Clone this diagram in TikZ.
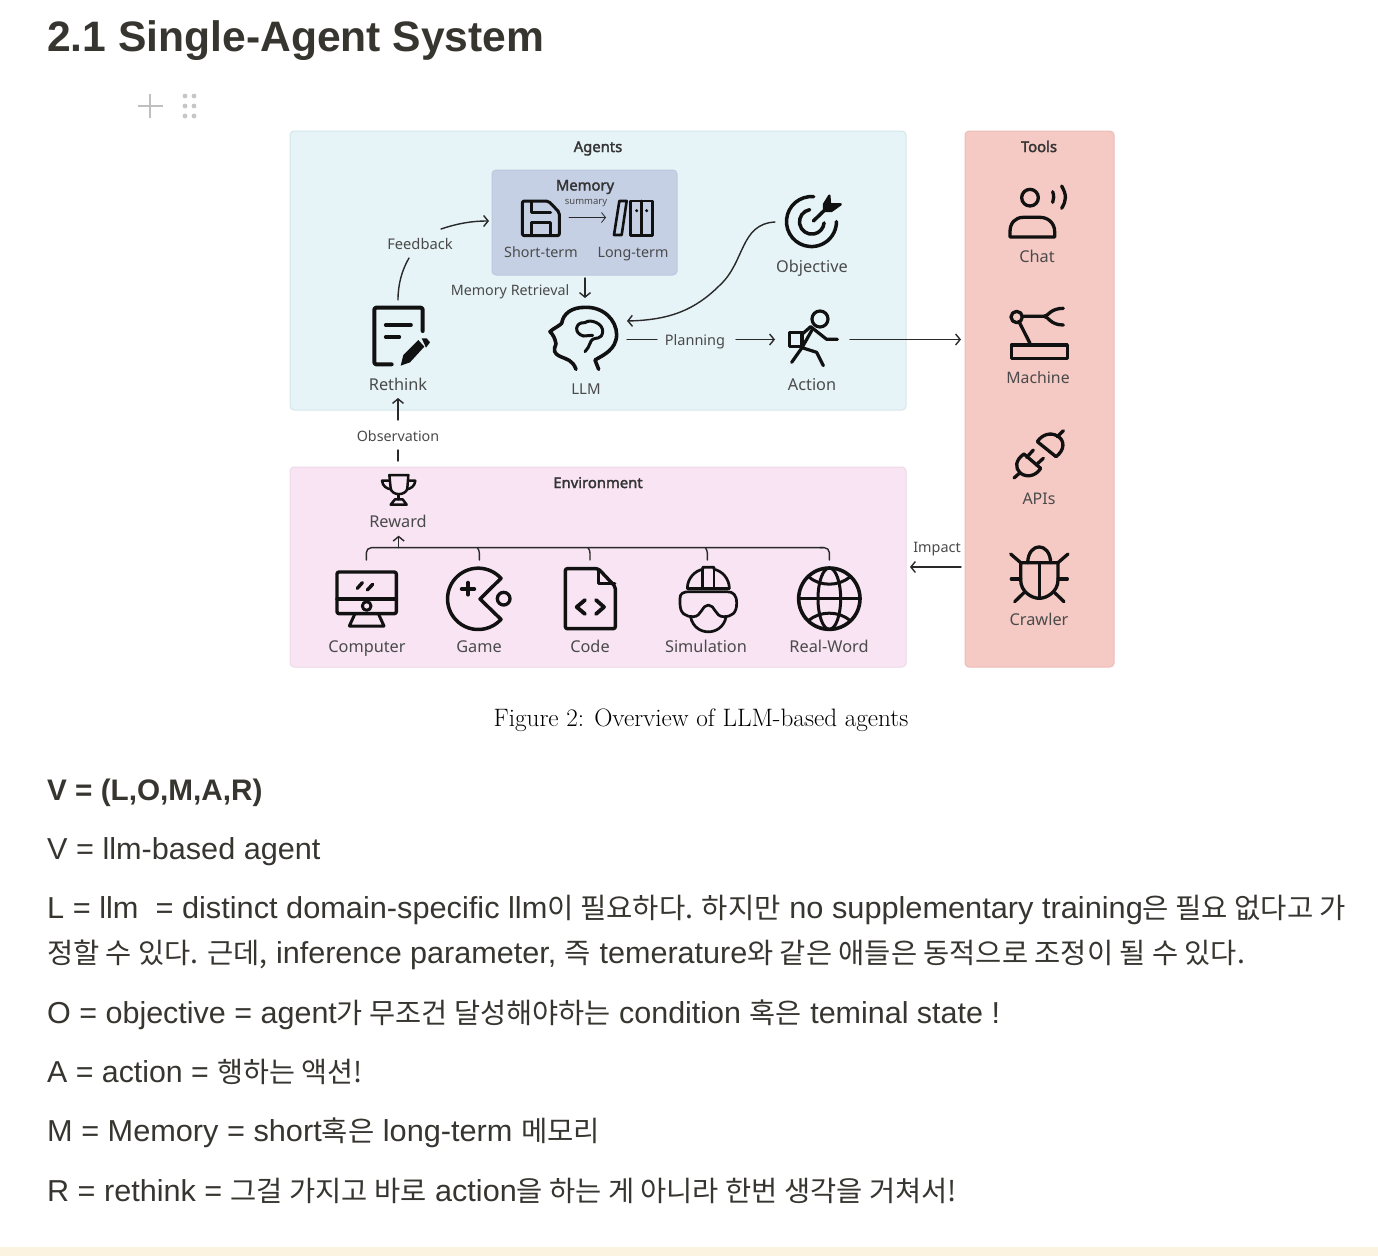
\documentclass[tikz,border=0pt]{standalone}
\usepackage{fontspec}
\usetikzlibrary{arrows.meta}
\newfontfamily\lab{Noto Sans}
\newfontfamily\labb[FakeBold=2.2]{Noto Sans}
\newfontfamily\body{Liberation Sans}
\newfontfamily\kr{Noto Sans CJK KR}
\newcommand{\K}[1]{{\kr\fontsize{28.2}{32}\selectfont #1}}
\definecolor{ink}{HTML}{37352F}
\definecolor{lbl}{HTML}{4A4A4A}
\definecolor{icon}{HTML}{111111}
\definecolor{band}{HTML}{FBF3E0}
\definecolor{agentsc}{HTML}{E6F3F7}\definecolor{agentsb}{HTML}{D6E6EA}
\definecolor{memc}{HTML}{C5D0E4}\definecolor{memb}{HTML}{BCC8DE}
\definecolor{toolc}{HTML}{F5C9C4}\definecolor{toolb}{HTML}{EBBDB8}
\definecolor{envc}{HTML}{F8E4F3}\definecolor{envb}{HTML}{EDD9E8}
\tikzset{
 z1/.style={shift={(280,125)},x=0.33333pt,y=-0.33333pt},
 z2/.style={shift={(600,125)},x=0.33333pt,y=-0.33333pt},
 z3/.style={shift={(280,420)},x=0.33333pt,y=-0.33333pt},
 z4/.style={shift={(600,420)},x=0.33333pt,y=-0.33333pt},
 z5/.style={shift={(900,125)},x=0.33333pt,y=-0.33333pt},
 z6/.style={shift={(900,400)},x=0.33333pt,y=-0.33333pt},
 zb/.style={shift={(540,300)},x=0.33333pt,y=-0.33333pt},
 ic/.style={draw=icon,line width=3.3pt,line cap=round,line join=round},
 cn/.style={draw=icon!90,line width=1.4pt,line cap=round},
 arr/.style={cn,-{Straight Barb[length=4.5pt,width=11pt,line width=1.4pt]}},
 tag/.style={font=\lab\fontsize{14.3}{16}\selectfont,text=lbl,inner sep=0pt,anchor=base},
 big/.style={font=\lab\fontsize{16.3}{18}\selectfont,text=lbl,inner sep=0pt,anchor=base},
 head/.style={font=\labb\fontsize{14.8}{16}\selectfont,text=lbl!70!black,inner sep=0pt,anchor=base},
 txt/.style={font=\body\fontsize{30.3}{32}\selectfont,text=ink,inner sep=0pt,anchor=base west,transform shape},
 panel/.style={rounded corners=4pt,line width=1pt},
}
\begin{document}
\begin{tikzpicture}[x=1pt,y=-1pt]
\useasboundingbox (0,0) rectangle (1378,1256);
\fill[white] (0,0) rectangle (1378,1256);
\fill[band] (0,1247) rectangle (1378,1256);
% heading
\node[inner sep=0pt,anchor=base west,text=ink,font=\body\bfseries\fontsize{42.6}{48}\selectfont] (title) at (47,51) {2.1 Single-Agent System};
% handle
\draw[gray!50,line width=1.6pt] (138,106) -- (163,106) (150,94) -- (150,118);
\foreach \xx in {185,194}\foreach \yy in {96,106,116}{\fill[gray!45] (\xx,\yy) circle (2.4);}
% panels
\draw[panel,fill=agentsc,draw=agentsb] (290,131) rectangle (906,410);
\draw[panel,fill=memc,draw=memb] (492,170) rectangle (677,275);
\draw[panel,fill=envc,draw=envb] (290,467) rectangle (906,667);
\draw[panel,fill=toolc,draw=toolb] (965,131) rectangle (1114,667);
% headings
\node[head] (agents) at (598,152) {Agents};
\node[head] (memory) at (585,190.5) {Memory};
\node[head] (envh) at (598,488) {Environment};
\node[head] (tools) at (1039,152) {Tools};
\node[tag,font=\lab\fontsize{9.5}{11}\selectfont] (summary) at (586,204) {summary};
% labels
\node[tag] (shortterm) at (541,257) {Short-term};
\node[tag] (longterm) at (633,257) {Long-term};
\node[tag,font=\lab\fontsize{14.7}{16}\selectfont] (feedback) at (420,249) {Feedback};
\node[tag] (retrieval) at (510,295) {Memory Retrieval};
\node[big] (rethink) at (398,390) {Rethink};
\node[tag,font=\lab\fontsize{15}{16}\selectfont] (llm) at (586,394) {LLM};
\node[big] (objective) at (812,272) {Objective};
\node[tag,font=\lab\fontsize{14.5}{16}\selectfont] (planning) at (695,345) {Planning};
\node[big] (action) at (812,390) {Action};
\node[tag] (observation) at (398,441) {Observation};
\node[big] (reward) at (398,527) {Reward};
\node[big] (computer) at (367,652) {Computer};
\node[big] (game) at (479,652) {Game};
\node[big] (code) at (590,652) {Code};
\node[big] (simulation) at (706,652) {Simulation};
\node[big] (realword) at (829,652) {Real-Word};
\node[big] (chat) at (1037,262) {Chat};
\node[big,font=\lab\fontsize{15.8}{18}\selectfont] (machine) at (1038,383) {Machine};
\node[big,font=\lab\fontsize{16}{18}\selectfont] (apis) at (1039,504) {APIs};
\node[big] (crawler) at (1039,625) {Crawler};
\node[tag,font=\lab\fontsize{14.4}{16}\selectfont] (impact) at (937,552) {Impact};
% connectors
\coordinate (fb1) at (398,300); \coordinate (fb2) at (409,258);
\coordinate (fb3) at (441,229); \coordinate (fb4) at (489,221);
\draw[cn] (fb1) .. controls (398,284) and (402,270) .. (fb2);
\draw[arr] (fb3) .. controls (456,224) and (470,221) .. (fb4);
\coordinate (sm1) at (569,217.5); \coordinate (sm2) at (606,217.5);
\draw[cn,line width=.8pt,-{Straight Barb[length=4pt,width=10pt,line width=.8pt]}] (sm1) -- (sm2);
\coordinate (mr1) at (585,278); \coordinate (mr2) at (585,298);
\draw[arr] (mr1) -- (mr2);
\coordinate (ob1) at (775,222); \coordinate (ob2) at (627,321);
\draw[arr] (ob1) .. controls (740,224) and (745,262) .. (720,285) .. controls (695,310) and (670,320) .. (ob2);
\coordinate (pl1) at (627,339.5); \coordinate (pl2) at (657,339.5);
\coordinate (pl3) at (736,339.5); \coordinate (pl4) at (775,339.5);
\draw[cn] (pl1) -- (pl2);
\draw[arr] (pl3) -- (pl4);
\coordinate (ac1) at (850,339.5); \coordinate (ac2) at (961,339.5);
\draw[arr] (ac1) -- (ac2);
\coordinate (im1) at (961,567); \coordinate (im2) at (910,567);
\draw[arr] (im1) -- (im2);
\coordinate (os1) at (398,420); \coordinate (os2) at (398,398);
\draw[arr] (os1) -- (os2);
\coordinate (os3) at (398,461); \coordinate (os4) at (398,450);
\draw[cn] (os3) -- (os4);
% bus
\begin{scope}[z3]
\draw[cn,rounded corners=5pt] (259,420) -- (259,383) -- (1630,383);
\draw[cn,rounded corners=3pt] (598,420) -- (598,390) -- (592,383);
\draw[cn,rounded corners=3pt] (930,420) -- (930,390) -- (924,383);
\coordinate (rb1) at (356,383); \coordinate (rb2) at (356,347);
\draw[arr] (rb1) -- (rb2);
\end{scope}
\begin{scope}[z4]
\draw[cn,rounded corners=5pt] (660,383) -- (688,383) -- (688,420);
\draw[cn,rounded corners=3pt] (322,420) -- (322,390) -- (316,383);
\end{scope}
% Floppy
\begin{scope}[z1]
\draw[ic,line width=3pt,rounded corners=2pt] (727,240) -- (727,332) -- (838,332) -- (838,262) -- (805,228) -- (727,228) -- cycle;
\draw[ic,line width=3pt] (755,230) -- (755,262) -- (812,262);
\draw[ic,line width=3pt] (755,330) -- (755,292) -- (812,292) -- (812,330);
\end{scope}
% Books
\begin{scope}[z2]
\draw[ic,line width=2.6pt] (58,228) -- (80,228) -- (65,330) -- (42,330) -- cycle;
\draw[ic,line width=2.6pt] (92,228) rectangle (158,332);
\draw[ic,line width=2.6pt] (125,228) -- (125,332);
\fill[icon] (110,257) circle (5) (140,257) circle (5);
\end{scope}
% Rethink
\begin{scope}[z1]
\draw[ic,line width=4pt,rounded corners=2pt] (335,718) -- (283,718) -- (283,548) -- (428,548) -- (428,618);
\draw[ic,line width=3.6pt] (317,600) -- (393,600) (317,636) -- (358,636);
\fill[icon] (362,722) -- (370,690) -- (415,645) -- (433,665) -- (390,712) -- cycle;
\fill[icon] (425,640) -- (440,640) -- (450,652) -- (438,668) -- cycle;
\end{scope}
% Brain head
\begin{scope}[zb]
\draw[ic,line width=3.6pt] (108,208) .. controls (98,180) and (80,178) .. (62,170) .. controls (40,160) and (40,150) .. (48,132)
 .. controls (45,115) and (40,105) .. (30,95) .. controls (40,85) and (55,80) .. (65,70)
 .. controls (70,40) and (95,22) .. (135,22) .. controls (190,20) and (230,60) .. (230,105)
 .. controls (228,150) and (190,165) .. (165,180) -- (176,208);
\draw[ic,line width=3pt] (130,108) .. controls (100,100) and (105,65) .. (135,68) .. controls (150,55) and (190,70) .. (188,95)
 .. controls (186,120) and (165,112) .. (158,118) .. controls (150,122) and (150,140) .. (135,155);
\draw[ic,line width=3pt] (130,108) -- (158,106);
\end{scope}
% Objective
\begin{scope}[z2]
\draw[ic,line width=3.5pt] (641,215) arc[start angle=-85,end angle=-360,radius=75];
\draw[ic,line width=3.5pt] (629,254) arc[start angle=-100,end angle=-355,radius=37];
\draw[ic,line width=3.5pt] (640,288) -- (690,240);
\draw[ic,line width=2.4pt,fill=icon] (672,238) -- (688,212) -- (690,238) -- (722,238) -- (694,258) -- (672,258) -- cycle;
\end{scope}
% Action
\begin{scope}[z2]
\draw[ic,line width=3.2pt] (660,582) circle (24);
\draw[ic,line width=3.2pt] (568,622) rectangle (606,664);
\draw[ic,line width=3.2pt] (606,628) -- (632,605) -- (680,643) -- (712,643);
\draw[ic,line width=3.2pt] (636,615) -- (606,668) -- (575,712);
\draw[ic,line width=3.2pt] (606,668) -- (650,682) -- (670,722);
\end{scope}
% Trophy
\begin{scope}[z3]
\draw[ic,line width=2.5pt] (328,165) -- (385,165) -- (382,205) .. controls (378,228) and (335,228) .. (332,205) -- cycle;
\draw[ic,line width=2.5pt] (328,182) -- (306,182) .. controls (308,200) and (320,205) .. (332,208);
\draw[ic,line width=2.5pt] (385,182) -- (406,182) .. controls (404,200) and (392,205) .. (382,208);
\draw[ic,line width=2.5pt] (356,224) -- (356,238);
\draw[ic,line width=2.5pt] (332,254) -- (345,238) -- (368,238) -- (380,254) -- cycle;
\end{scope}
% Computer
\begin{scope}[z3]
\draw[ic,line width=3.4pt,rounded corners=2pt] (171,456) rectangle (349,581);
\draw[ic,line width=3.4pt] (171,537) -- (349,537);
\draw[ic,fill=envc,line width=3pt] (260,558) circle (13);
\draw[ic,line width=3pt] (208,618) -- (225,581) (312,618) -- (295,581) (208,618) -- (312,618);
\draw[ic,line width=3.4pt] (232,505) -- (247,488) (262,510) -- (278,493);
\end{scope}
% Game
\begin{scope}[z3]
\draw[ic,line width=3.5pt] (663,475) arc[start angle=-42,end angle=-318,radius=92] -- (600,537) -- cycle;
\draw[ic,line width=3.3pt] (671,536) circle (19);
\draw[ic,line width=3.8pt] (545,507) -- (583,507) (564,488) -- (564,524);
\end{scope}
% Code
\begin{scope}[z3]
\draw[ic,line width=3.4pt,rounded corners=2pt] (856,446) -- (955,446) -- (1006,500) -- (1006,626) -- (856,626) -- cycle;
\draw[ic,line width=3.4pt] (956,448) -- (956,490) -- (1004,490);
\draw[ic,line width=3.8pt] (915,540) -- (890,561) -- (915,582) (948,540) -- (972,561) -- (948,582);
\end{scope}
% Simulation
\begin{scope}[z4]
\draw[ic,line width=2.7pt] (262,505) .. controls (262,475) and (285,452) .. (308,448) -- (308,442) -- (342,442) -- (342,448) .. controls (365,452) and (388,475) .. (388,505);
\draw[ic,line width=2.7pt] (308,448) -- (308,505) (342,448) -- (342,505);
\draw[ic,line width=2.7pt] (262,505) -- (388,505);
\draw[ic,line width=2.7pt] (240,535) .. controls (240,520) and (250,515) .. (270,515) -- (380,515) .. controls (400,515) and (410,525) .. (410,550) .. controls (410,580) and (395,590) .. (370,590) .. controls (345,590) and (345,555) .. (325,555) .. controls (305,555) and (305,590) .. (280,590) .. controls (255,590) and (240,580) .. (240,550) -- cycle;
\draw[ic,line width=2.7pt] (272,592) .. controls (285,650) and (365,650) .. (378,592);
\end{scope}
% Globe
\begin{scope}[z4]
\draw[ic,line width=3.6pt] (688,536) circle (92);
\draw[ic,line width=3pt] (688,536) ellipse (34 and 92);
\draw[ic,line width=3pt] (596,536) -- (780,536);
\draw[ic,line width=3pt] (625,470) .. controls (660,500) and (716,500) .. (751,470);
\draw[ic,line width=3pt] (625,602) .. controls (660,572) and (716,572) .. (751,602);
\end{scope}
% Chat
\begin{scope}[z5]
\draw[ic,line width=3.3pt] (390,218) ellipse (25 and 25);
\draw[ic,line width=3.3pt] (458,200) .. controls (462,212) and (462,222) .. (458,232);
\draw[ic,line width=3.3pt] (485,183) .. controls (500,210) and (500,225) .. (485,250);
\draw[ic,line width=3.3pt] (330,336) -- (330,320) .. controls (330,295) and (345,277) .. (370,277) -- (420,277) .. controls (445,277) and (464,295) .. (464,320) -- (464,336) -- cycle;
\end{scope}
% Machine
\begin{scope}[z5]
\draw[ic,line width=3.3pt] (350,576) circle (17);
\draw[ic,line width=3.3pt] (368,574) -- (432,574) .. controls (445,574) and (450,550) .. (490,550);
\draw[ic,line width=3.3pt] (432,574) .. controls (445,574) and (450,600) .. (490,600);
\draw[ic,line width=3.3pt] (358,592) -- (390,655);
\draw[ic,line width=3.3pt] (334,660) rectangle (502,700);
\end{scope}
% APIs
\begin{scope}[z6]
\draw[ic,line width=3.3pt] (342,234) -- (360,218);
\draw[ic,line width=3.3pt] (372,162) .. controls (345,180) and (345,205) .. (360,218) .. controls (375,232) and (405,232) .. (422,205) -- cycle;
\draw[ic,line width=3.3pt] (380,172) -- (400,150) (408,195) -- (430,175);
\draw[ic,line width=3.3pt] (490,92) -- (472,110);
\draw[ic,line width=3.3pt] (412,125) -- (468,170) .. controls (495,150) and (495,120) .. (472,108) .. controls (450,95) and (425,105) .. (412,125) -- cycle;
\end{scope}
% Crawler
\begin{scope}[z6]
\draw[ic,line width=3.3pt] (383,488) .. controls (385,425) and (450,425) .. (452,488);
\draw[ic,line width=3.3pt] (362,488) -- (474,488) -- (474,540) .. controls (474,575) and (440,595) .. (418,595) .. controls (395,595) and (362,575) .. (362,540) -- cycle;
\draw[ic,line width=3.3pt] (418,488) -- (418,595);
\draw[ic,line width=3.3pt] (332,462) -- (362,488) (504,462) -- (474,488);
\draw[ic,line width=3.3pt] (334,537) -- (362,537) (502,537) -- (474,537);
\draw[ic,line width=3.3pt] (344,605) -- (372,578) (492,605) -- (464,578);
\end{scope}
% caption
\node[inner sep=0pt,anchor=base,text=black,font=\fontsize{25.2}{28}\selectfont] (caption) at (701,726) {Figure 2: Overview of LLM-based agents};
% body text
\node[txt,font=\body\bfseries\fontsize{29.7}{32}\selectfont] (t0) at (47,800) {V = (L,O,M,A,R)};
\node[txt,xscale=1.011] (t1) at (47,859) {V = llm-based agent};
\node[txt,xscale=1.014] (t2) at (47,918) {L = llm \ = distinct domain-specific llm\K{이 필요하다. 하지만} no supplementary training\K{은 필요 없다고 가}};
\node[txt,xscale=1.009] (t3) at (47,963) {\K{정할 수 있다. 근데,} inference parameter, \K{즉} temerature\K{와 같은 애들은 동적으로 조정이 될 수 있다.}};
\node[txt,xscale=1.006] (t4) at (47,1023) {O = objective = agent\K{가 무조건 달성해야하는} condition \K{혹은} teminal state !};
\node[txt] (t5) at (47,1082) {A = action = \K{행하는 액션!}};
\node[txt,xscale=1.013] (t6) at (47,1141) {M = Memory = short\K{혹은} long-term \K{메모리}};
\node[txt,xscale=1.009] (t7) at (47,1201) {R = rethink = \K{그걸 가지고 바로} action\K{을 하는 게 아니라 한번 생각을 거쳐서!}};
\end{tikzpicture}
\end{document}
